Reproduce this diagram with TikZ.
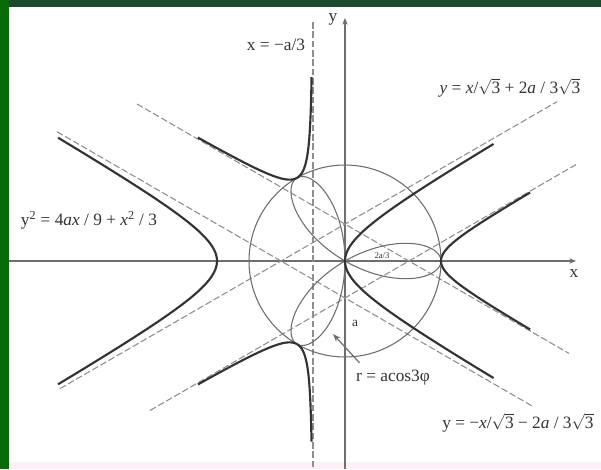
\documentclass[tikz,border=0pt]{standalone}
\usepackage{amsmath}
\usepackage{fontspec}
\setmainfont{Liberation Serif}
\usetikzlibrary{arrows.meta}
\definecolor{frameteal}{HTML}{1D4A2C}
\definecolor{framegreen}{HTML}{066B06}
\definecolor{stripink}{HTML}{FDF0F6}
\definecolor{curvegray}{HTML}{333333}
\definecolor{thingray}{HTML}{6E6E6E}
\definecolor{dashgray}{HTML}{8E8E8E}
\tikzset{
  axis/.style={thingray, line width=0.9pt, -{Stealth[length=5pt,width=4pt]}},
  thickcurve/.style={curvegray, line width=1.6pt},
  thincurve/.style={thingray, line width=0.8pt},
  asym/.style={dashgray, line width=0.8pt, dash pattern=on 5pt off 2pt},
  pointer/.style={thingray, line width=0.9pt, -{Stealth[length=6pt,width=4.5pt]}},
  lbl/.style={inner sep=1pt, text=black!80, font=\fontsize{13}{15}\selectfont},
}
\def\A{96}

\begin{document}
\begin{tikzpicture}[x=0.75pt, y=0.75pt]
% frame and background
\fill[white] (-345,-208) rectangle (256,261);
\fill[stripink] (-345,-208) rectangle (256,-201);
\fill[frameteal] (-345,261) rectangle (256,254);
\fill[framegreen] (-345,-208) rectangle (-336,261);
\useasboundingbox (-345,-208) rectangle (256,261);

% axes
\coordinate (O) at (0,0);
\coordinate (xl) at (-336,0);
\coordinate (xr) at (231,0);
\coordinate (yb) at (0,-208);
\coordinate (yt) at (0,243);
\draw[axis] (xl) -- (xr);
\draw[axis] (yb) -- (yt);

% asymptotes
\draw[asym] (-32,239) -- (-32,-208);
\draw[asym] (-285,-127.6) -- (212,159.3);
\draw[asym] (-288,129.3) -- (187,-144.9);
\draw[asym] (-195,-149.5) -- (231,96.4);
\draw[asym] (-208,157.0) -- (224,-92.4);

% circle and rose r = a cos 3phi
\draw[thincurve] (O) circle (\A);
\draw[thincurve, domain=0:180, samples=181, smooth, variable=\t]
  plot ({\A*cos(3*\t)*cos(\t)}, {\A*cos(3*\t)*sin(\t)});

% hyperbola
\draw[thickcurve, domain=-1.87:1.87, samples=60, smooth, variable=\t]
  plot ({-64+64*cosh(\t)}, {36.95*sinh(\t)});
\draw[thickcurve, domain=-1.92:1.92, samples=60, smooth, variable=\t]
  plot ({-64-64*cosh(\t)}, {36.95*sinh(\t)});

% r = a / cos 3phi
\draw[thickcurve, domain=-20.3:20.3, samples=60, smooth, variable=\t]
  plot ({\A/cos(3*\t)*cos(\t)}, {\A/cos(3*\t)*sin(\t)});
\draw[thickcurve, domain=100.3:140, samples=60, smooth, variable=\t]
  plot ({\A/cos(3*\t)*cos(\t)}, {\A/cos(3*\t)*sin(\t)});
\draw[thickcurve, domain=220:259.5, samples=60, smooth, variable=\t]
  plot ({\A/cos(3*\t)*cos(\t)}, {\A/cos(3*\t)*sin(\t)});

% labels
\node[lbl] (ylab) at (-12,242) {y};
\node[lbl] (xlab) at (229,-13) {x};
\node[lbl] (vasym) at (-69,216) {x = −a/3};
\node[lbl] (upasym) at (165,173) {\textit{y} = \textit{x}/$\sqrt{\text{3}}$ + 2\textit{a} / 3$\sqrt{\text{3}}$};
\node[lbl] (hyp) at (-256,41) {y$^{\text{2}}$ = 4\textit{ax} / 9 + \textit{x}$^{\text{2}}$ / 3};
\node[lbl] (loasym) at (173,-162) {y = −\textit{x}/$\sqrt{\text{3}}$ − 2\textit{a} / 3$\sqrt{\text{3}}$};
\node[lbl] (rose) at (48,-117) {r = acos3φ};
\node[lbl, font=\fontsize{10}{11}\selectfont] (rad) at (10,-62) {a};
\node[lbl, font=\fontsize{6.5}{7}\selectfont] (twothird) at (37,5) {2a/3};

\coordinate (petal) at (-12,-73);
\draw[pointer] ([shift={(5,6)}]rose.north west) -- (petal);
\end{tikzpicture}
\end{document}
